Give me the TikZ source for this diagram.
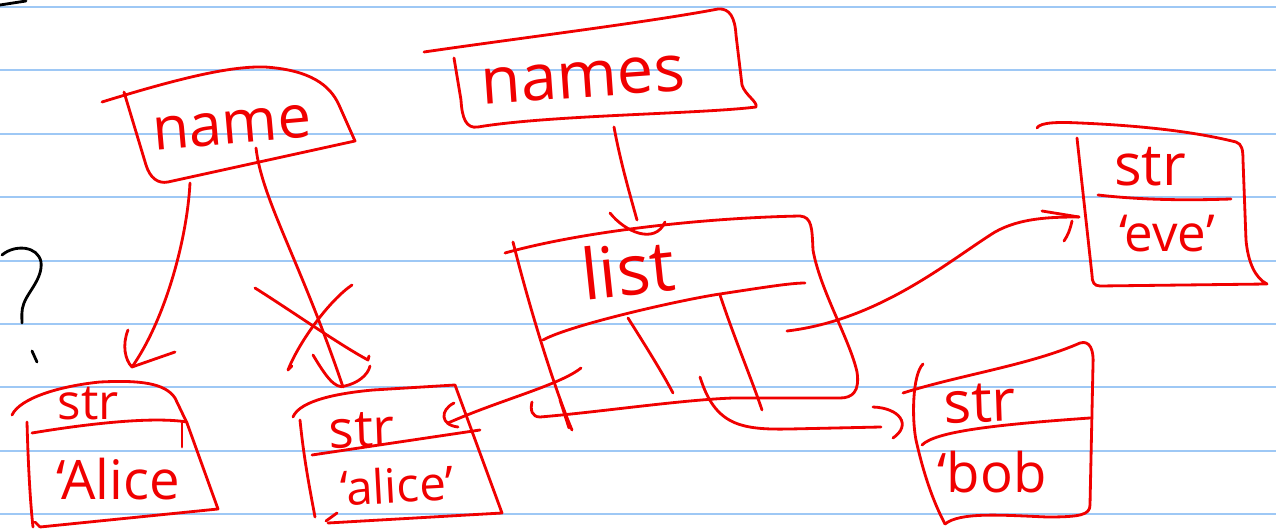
\documentclass[tikz,border=0pt]{standalone}
\usepackage{fontspec}
\setmainfont{Open Sans}
\definecolor{paperblue}{RGB}{158,200,245}
\definecolor{penred}{RGB}{240,0,0}
\tikzset{
  pen/.style={draw=penred, line width=1.6pt, line cap=round, line join=round},
  ink/.style={draw=black, line width=1.6pt, line cap=round, line join=round},
  rule/.style={draw=paperblue, line width=1.3pt},
  hw/.style={text=penred, inner sep=0pt},
}
\newcommand{\fs}[1]{\fontsize{#1}{#1}\selectfont}
\begin{document}
\begin{tikzpicture}[x=0.02cm, y=-0.02cm]
\fill[white] (0,0) rectangle (1276,530);
\useasboundingbox (0,0) rectangle (1276,530);

% ruled paper
\foreach \yy in {7,70,134,197,261,324,387,451,514}
  \draw[rule] (0,\yy) -- (1276,\yy);

% black pencil marks
\draw[ink] (0,5) -- (26,1);
\draw[ink] (2,255) .. controls (15,244) and (38,246) .. (41,262)
  .. controls (43,278) and (28,292) .. (24,303) .. controls (21,310) and (22,318) .. (22,323);
\draw[ink] (32,351) -- (37,362);

% ---- variable "name"
\draw[pen] (102,102) .. controls (180,78) and (230,66) .. (265,67)
  .. controls (310,70) and (330,85) .. (339,105) -- (355,141) -- (168,182)
  .. controls (158,184) and (150,178) .. (146,165) -- (124,92);
\node[hw, font=\fs{34}, rotate=5] (tname) at (232,128) {name};

% ---- variable "names"
\draw[pen] (424,52) .. controls (520,38) and (650,22) .. (718,9)
  .. controls (730,8) and (735,18) .. (736,35) -- (742,85)
  .. controls (745,95) and (758,102) .. (756,107)
  .. controls (700,114) and (550,115) .. (478,127)
  .. controls (466,129) and (462,118) .. (461,100) -- (454,58);
\node[hw, font=\fs{37}, rotate=4] (tnames) at (583,80) {names};

% ---- list object
\draw[pen] (505,253) .. controls (580,232) and (700,218) .. (800,216)
  .. controls (812,217) and (812,228) .. (813,250)
  .. controls (820,290) and (850,340) .. (857,372)
  .. controls (860,392) and (852,398) .. (840,398) -- (733,398)
  .. controls (680,400) and (600,412) .. (540,417)
  .. controls (532,417) and (530,410) .. (532,402);
\draw[pen] (513,242) .. controls (530,310) and (555,390) .. (572,430);
\draw[pen] (560,400) -- (569,428);
\draw[pen] (543,340) .. controls (570,325) and (680,300) .. (720,294)
  .. controls (760,288) and (790,283) .. (805,283);
\draw[pen] (628,318) .. controls (645,345) and (662,372) .. (673,393);
\draw[pen] (720,295) .. controls (735,340) and (752,380) .. (762,410);
\node[hw, font=\fs{40}, rotate=6] (tlist) at (628,269) {list};

% ---- str 'Alice
\draw[pen] (12,415) .. controls (20,398) and (60,386) .. (100,382)
  .. controls (140,380) and (165,383) .. (175,398) -- (187,423) -- (218,509) -- (40,527);
\draw[pen] (40,527) -- (35,522);
\draw[pen] (27,422) .. controls (28,460) and (30,500) .. (33,527);
\draw[pen] (32,433) .. controls (80,425) and (150,416) .. (187,422);
\draw[pen] (182,423) -- (182,447);
\node[hw, font=\fs{28}] (sA) at (88,404) {str};
\node[hw, font=\fs{31}] (vA) at (118,479) {‘Alice};

% ---- str 'alice'
\draw[pen] (293,417) .. controls (300,400) and (340,393) .. (373,390) -- (455,385) -- (502,513) -- (328,523);
\draw[pen] (326,521) -- (337,513);
\draw[pen] (300,420) .. controls (304,460) and (310,490) .. (315,517);
\draw[pen] (312,455) -- (480,430);
\node[hw, font=\fs{30}, rotate=2] (sa) at (362,430) {str};
\node[hw, font=\fs{27}, rotate=3] (va) at (397,485) {‘alice’};

% ---- str 'bob
\draw[pen] (903,393) .. controls (960,375) and (1030,365) .. (1080,343)
  .. controls (1090,340) and (1094,350) .. (1093,365) -- (1090,505)
  .. controls (1090,515) and (1080,517) .. (1047,517)
  .. controls (1000,515) and (960,512) .. (945,524);
\draw[pen] (923,364) .. controls (912,375) and (912,420) .. (916,440)
  .. controls (925,480) and (935,505) .. (945,524);
\draw[pen] (922,445) .. controls (935,432) and (990,425) .. (1090,418);
\node[hw, font=\fs{33}, rotate=2] (sb) at (980,403) {str};
\node[hw, font=\fs{31}] (vb) at (992,472) {‘bob};

% ---- str 'eve'
\draw[pen] (1037,128) .. controls (1040,122) and (1060,122) .. (1080,123)
  .. controls (1150,126) and (1200,133) .. (1236,142)
  .. controls (1242,144) and (1243,150) .. (1243,160) -- (1246,240)
  .. controls (1248,262) and (1255,278) .. (1267,284) -- (1100,286)
  .. controls (1094,286) and (1092,282) .. (1092,275) -- (1077,138);
\draw[pen] (1098,195) .. controls (1150,201) and (1200,200) .. (1231,199);
\node[hw, font=\fs{33}] (se) at (1150,167) {str};
\node[hw, font=\fs{29}] (ve) at (1167,234) {‘eve’};

% ---- connector end points
\coordinate (nameL) at (190,183);
\coordinate (nameR) at (256,148);
\coordinate (inA) at (132,367);
\coordinate (ina) at (343,387);
\coordinate (namesOut) at (614,127);
\coordinate (listIn) at (637,220);
\coordinate (cell1) at (581,368);
\coordinate (cell2) at (700,377);
\coordinate (cell3) at (787,331);
\coordinate (aIn) at (448,423);
\coordinate (bIn) at (881,427);
\coordinate (eIn) at (1079,217);

% name -> 'Alice
\draw[pen] (nameL) .. controls (187,240) and (165,320) .. (inA);
\draw[pen] (128,330) .. controls (122,345) and (125,360) .. (inA) -- (175,352);

% name -> 'alice', crossed out
\draw[pen] (nameR) .. controls (262,200) and (300,260) .. (ina);
\draw[pen] (313,355) .. controls (325,375) and (335,390) .. (345,386)
  .. controls (358,383) and (368,375) .. (370,366);
\draw[pen] (255,288) .. controls (290,310) and (340,345) .. (368,360) -- (369,356);
\draw[pen] (352,285) .. controls (330,300) and (300,340) .. (288,370) -- (292,366);

% names -> list
\draw[pen] (namesOut) .. controls (620,160) and (630,195) .. (listIn);
\draw[pen] (610,213) .. controls (625,232) and (655,245) .. (665,222);

% list cells -> strings
\draw[pen] (cell1) .. controls (560,385) and (500,400) .. (aIn);
\draw[pen] (454,403) .. controls (440,410) and (440,425) .. (458,427);
\draw[pen] (cell2) .. controls (715,425) and (740,430) .. (790,429) -- (bIn);
\draw[pen] (873,407) .. controls (900,408) and (912,425) .. (893,438);
\draw[pen] (cell3) .. controls (880,320) and (950,260) .. (995,232)
  .. controls (1020,218) and (1050,217) .. (eIn);
\draw[pen] (1042,211) -- (eIn);
\draw[pen] (1072,221) .. controls (1070,230) and (1068,235) .. (1064,241);
\end{tikzpicture}
\end{document}
